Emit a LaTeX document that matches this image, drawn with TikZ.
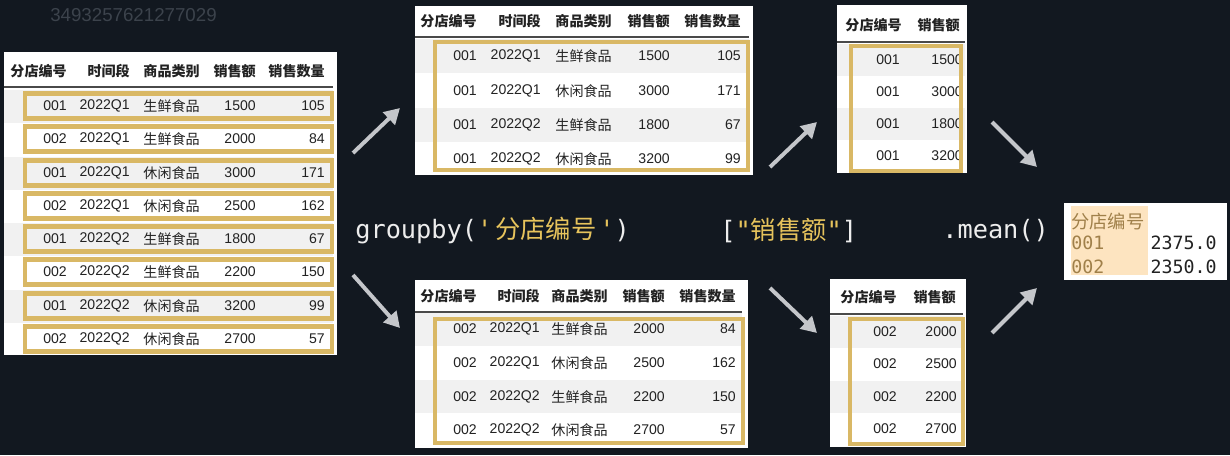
\documentclass[tikz,border=0pt]{standalone}
\usepackage{fontspec}
\usepackage{xcolor}
\setmainfont{Liberation Sans}
\newfontfamily\cjk{Noto Sans CJK SC}
\newfontfamily\codefont{DejaVu Sans Mono}
\definecolor{bgDark}{HTML}{121820}
\definecolor{rowGray}{HTML}{F1F1F1}
\definecolor{goldLine}{HTML}{D9B865}
\definecolor{lineDark}{HTML}{4A4A4A}
\definecolor{textDark}{HTML}{222222}
\definecolor{arrowGray}{HTML}{C4C6CA}
\definecolor{codeWhite}{HTML}{EDEDED}
\definecolor{codeGold}{HTML}{E6C35C}
\definecolor{peach}{HTML}{FDE4C0}
\definecolor{brownText}{HTML}{A0804A}
\definecolor{wmGray}{HTML}{3C434C}
\usetikzlibrary{arrows.meta}
\tikzset{
  stripe/.style={fill=rowGray, draw=none},
  goldframe/.style={draw=goldLine, line width=3.2pt},
  headrule/.style={draw=lineDark, line width=1pt},
  cell/.style={anchor=east, inner sep=0pt, text=textDark, font=\fontsize{10}{12}\selectfont},
  zhcell/.style={cell, font=\cjk\fontsize{10}{12}\selectfont},
  headcell/.style={cell, font=\cjk\bfseries\fontsize{10}{12}\selectfont},
  flow/.style={draw=arrowGray, line width=2.8pt, -{Triangle[length=11pt, width=12pt]}},
  code/.style={anchor=west, inner sep=0pt, text=codeWhite, font=\codefont\fontsize{18}{20}\selectfont},
  monocell/.style={inner sep=0pt, font=\codefont\fontsize{13}{15}\selectfont}
}

\begin{document}
\begin{tikzpicture}[x=0.025cm, y=-0.025cm]
  \fill[bgDark] (0,0) rectangle (1230,455);
  \useasboundingbox (0,0) rectangle (1230,455);
  \node[anchor=west, inner sep=0pt, text=wmGray, font=\fontsize{13.3}{15}\selectfont] (wm) at (50,15) {3493257621277029};

  \fill[white] (4,52) rectangle (337,355);
  \fill[stripe] (4,89.5) rectangle (333,122.5);
  \fill[stripe] (4,156.5) rectangle (333,189.5);
  \fill[stripe] (4,222.5) rectangle (333,255.5);
  \fill[stripe] (4,289.5) rectangle (333,322.5);
  \draw[headrule] (4,87) -- (333,87);
  \node[headcell] (Lh1) at (67,71) {分店编号};
  \node[headcell] (Lh2) at (130,71) {时间段};
  \node[headcell] (Lh3) at (200,71) {商品类别};
  \node[headcell] (Lh4) at (256,71) {销售额};
  \node[headcell] (Lh5) at (325,71) {销售数量};
  \node[cell] (L11) at (67,106) {001};
  \node[cell] (L12) at (130,106) {2022Q1};
  \node[zhcell] (L13) at (200,106) {生鲜食品};
  \node[cell] (L14) at (256,106) {1500};
  \node[cell] (L15) at (325,106) {105};
  \node[cell] (L21) at (67,139) {002};
  \node[cell] (L22) at (130,139) {2022Q1};
  \node[zhcell] (L23) at (200,139) {生鲜食品};
  \node[cell] (L24) at (256,139) {2000};
  \node[cell] (L25) at (325,139) {84};
  \node[cell] (L31) at (67,173) {001};
  \node[cell] (L32) at (130,173) {2022Q1};
  \node[zhcell] (L33) at (200,173) {休闲食品};
  \node[cell] (L34) at (256,173) {3000};
  \node[cell] (L35) at (325,173) {171};
  \node[cell] (L41) at (67,206) {002};
  \node[cell] (L42) at (130,206) {2022Q1};
  \node[zhcell] (L43) at (200,206) {休闲食品};
  \node[cell] (L44) at (256,206) {2500};
  \node[cell] (L45) at (325,206) {162};
  \node[cell] (L51) at (67,239) {001};
  \node[cell] (L52) at (130,239) {2022Q2};
  \node[zhcell] (L53) at (200,239) {生鲜食品};
  \node[cell] (L54) at (256,239) {1800};
  \node[cell] (L55) at (325,239) {67};
  \node[cell] (L61) at (67,272) {002};
  \node[cell] (L62) at (130,272) {2022Q2};
  \node[zhcell] (L63) at (200,272) {生鲜食品};
  \node[cell] (L64) at (256,272) {2200};
  \node[cell] (L65) at (325,272) {150};
  \node[cell] (L71) at (67,306) {001};
  \node[cell] (L72) at (130,306) {2022Q2};
  \node[zhcell] (L73) at (200,306) {休闲食品};
  \node[cell] (L74) at (256,306) {3200};
  \node[cell] (L75) at (325,306) {99};
  \node[cell] (L81) at (67,339) {002};
  \node[cell] (L82) at (130,339) {2022Q2};
  \node[zhcell] (L83) at (200,339) {休闲食品};
  \node[cell] (L84) at (256,339) {2700};
  \node[cell] (L85) at (325,339) {57};
  \draw[goldframe] (25,93.5) rectangle (332,118.5);
  \draw[goldframe] (25,126.5) rectangle (332,151.5);
  \draw[goldframe] (25,160.5) rectangle (332,185.5);
  \draw[goldframe] (25,193.5) rectangle (332,218.5);
  \draw[goldframe] (25,226.5) rectangle (332,251.5);
  \draw[goldframe] (25,259.5) rectangle (332,284.5);
  \draw[goldframe] (25,293.5) rectangle (332,318.5);
  \draw[goldframe] (25,326.5) rectangle (332,351.5);

  \fill[white] (415,6) rectangle (753,175);
  \fill[stripe] (415,39) rectangle (749,73);
  \fill[stripe] (415,108) rectangle (749,142);
  \draw[headrule] (415,37) -- (749,37);
  \node[headcell] (Ah1) at (477,21) {分店编号};
  \node[headcell] (Ah2) at (541,21) {时间段};
  \node[headcell] (Ah3) at (612,21) {商品类别};
  \node[headcell] (Ah4) at (670,21) {销售额};
  \node[headcell] (Ah5) at (741,21) {销售数量};
  \node[cell] (A11) at (477,56) {001};
  \node[cell] (A12) at (541,56) {2022Q1};
  \node[zhcell] (A13) at (612,56) {生鲜食品};
  \node[cell] (A14) at (670,56) {1500};
  \node[cell] (A15) at (741,56) {105};
  \node[cell] (A21) at (477,91) {001};
  \node[cell] (A22) at (541,91) {2022Q1};
  \node[zhcell] (A23) at (612,91) {休闲食品};
  \node[cell] (A24) at (670,91) {3000};
  \node[cell] (A25) at (741,91) {171};
  \node[cell] (A31) at (477,125) {001};
  \node[cell] (A32) at (541,125) {2022Q2};
  \node[zhcell] (A33) at (612,125) {生鲜食品};
  \node[cell] (A34) at (670,125) {1800};
  \node[cell] (A35) at (741,125) {67};
  \node[cell] (A41) at (477,159) {001};
  \node[cell] (A42) at (541,159) {2022Q2};
  \node[zhcell] (A43) at (612,159) {休闲食品};
  \node[cell] (A44) at (670,159) {3200};
  \node[cell] (A45) at (741,159) {99};
  \draw[goldframe] (435,42) rectangle (748,170);

  \fill[white] (415,280) rectangle (748,448);
  \fill[stripe] (415,313) rectangle (742,346);
  \fill[stripe] (415,380) rectangle (742,413);
  \draw[headrule] (415,312) -- (742,312);
  \node[headcell] (Bh1) at (477,296) {分店编号};
  \node[headcell] (Bh2) at (540,296) {时间段};
  \node[headcell] (Bh3) at (608,296) {商品类别};
  \node[headcell] (Bh4) at (665,296) {销售额};
  \node[headcell] (Bh5) at (736,296) {销售数量};
  \node[cell] (B11) at (477,329) {002};
  \node[cell] (B12) at (540,329) {2022Q1};
  \node[zhcell] (B13) at (608,329) {生鲜食品};
  \node[cell] (B14) at (665,329) {2000};
  \node[cell] (B15) at (736,329) {84};
  \node[cell] (B21) at (477,363) {002};
  \node[cell] (B22) at (540,363) {2022Q1};
  \node[zhcell] (B23) at (608,363) {休闲食品};
  \node[cell] (B24) at (665,363) {2500};
  \node[cell] (B25) at (736,363) {162};
  \node[cell] (B31) at (477,397) {002};
  \node[cell] (B32) at (540,397) {2022Q2};
  \node[zhcell] (B33) at (608,397) {生鲜食品};
  \node[cell] (B34) at (665,397) {2200};
  \node[cell] (B35) at (736,397) {150};
  \node[cell] (B41) at (477,430) {002};
  \node[cell] (B42) at (540,430) {2022Q2};
  \node[zhcell] (B43) at (608,430) {休闲食品};
  \node[cell] (B44) at (665,430) {2700};
  \node[cell] (B45) at (736,430) {57};
  \draw[goldframe] (435,319) rectangle (743,443);

  \fill[white] (837,5) rectangle (967,173);
  \fill[stripe] (837,44) rectangle (965,76);
  \fill[stripe] (837,108) rectangle (965,140);
  \draw[headrule] (837,42) -- (965,42);
  \node[headcell] (Ch1) at (902,25) {分店编号};
  \node[headcell] (Ch2) at (960,25) {销售额};
  \node[cell] (C11) at (900,60) {001};
  \node[cell] (C12) at (963,60) {1500};
  \node[cell] (C21) at (900,92) {001};
  \node[cell] (C22) at (963,92) {3000};
  \node[cell] (C31) at (900,124) {001};
  \node[cell] (C32) at (963,124) {1800};
  \node[cell] (C41) at (900,156) {001};
  \node[cell] (C42) at (963,156) {3200};
  \draw[goldframe] (851,46) rectangle (961,171);

  \fill[white] (830,279) rectangle (966,447);
  \fill[stripe] (830,316) rectangle (963,348);
  \fill[stripe] (830,381) rectangle (963,413);
  \draw[headrule] (830,314) -- (963,314);
  \node[headcell] (Dh1) at (897,297) {分店编号};
  \node[headcell] (Dh2) at (956,297) {销售额};
  \node[cell] (D11) at (897,332) {002};
  \node[cell] (D12) at (957,332) {2000};
  \node[cell] (D21) at (897,364) {002};
  \node[cell] (D22) at (957,364) {2500};
  \node[cell] (D31) at (897,397) {002};
  \node[cell] (D32) at (957,397) {2200};
  \node[cell] (D41) at (897,429) {002};
  \node[cell] (D42) at (957,429) {2700};
  \draw[goldframe] (850,319) rectangle (963,444);

  \fill[white] (1064,203) rectangle (1227,280);
  \fill[peach] (1071,206) rectangle (1148,275);
  \node[monocell, anchor=west, text=brownText, font=\cjk\fontsize{13}{15}\selectfont] (Rh) at (1071,222) {分店编号};
  \node[monocell, anchor=west, text=brownText] (R11) at (1071,243) {001};
  \node[monocell, anchor=east, text=textDark] (R12) at (1217,243) {2375.0};
  \node[monocell, anchor=west, text=brownText] (R21) at (1071,267) {002};
  \node[monocell, anchor=east, text=textDark] (R22) at (1217,267) {2350.0};

  \node[code] (groupby) at (355,231) {groupby(\textcolor{codeGold}{'\kern2pt{\cjk 分店编号}\kern2pt'})};
  \node[code] (select) at (720,231) {[\textcolor{codeGold}{"{\cjk 销售额}"}]};
  \node[code] (mean) at (942,231) {.mean()};

  \coordinate (a1s) at (353,153);
  \coordinate (a1e) at (400,108);
  \coordinate (a2s) at (353,275);
  \coordinate (a2e) at (400,328);
  \coordinate (a3s) at (770,167);
  \coordinate (a3e) at (817,122);
  \coordinate (a4s) at (770,288);
  \coordinate (a4e) at (817,333);
  \coordinate (a5s) at (992,122);
  \coordinate (a5e) at (1037,167);
  \coordinate (a6s) at (992,333);
  \coordinate (a6e) at (1037,288);
  \draw[flow] (a1s) -- (a1e);
  \draw[flow] (a2s) -- (a2e);
  \draw[flow] (a3s) -- (a3e);
  \draw[flow] (a4s) -- (a4e);
  \draw[flow] (a5s) -- (a5e);
  \draw[flow] (a6s) -- (a6e);
\end{tikzpicture}
\end{document}
